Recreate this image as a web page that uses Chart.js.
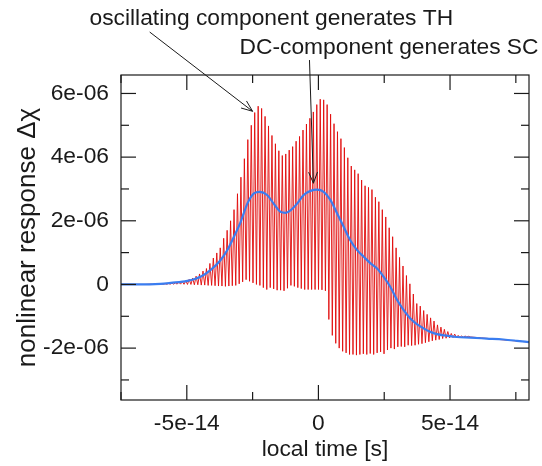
<!DOCTYPE html>
<html><head><meta charset="utf-8">
<script src="https://cdn.jsdelivr.net/npm/chart.js@4/dist/chart.umd.min.js"></script>
<style>html,body{margin:0;padding:0;background:#fff}#wrap{width:542px;height:466px;position:relative}</style>
</head><body><div id="wrap"><canvas id="c" width="542" height="466"></canvas></div>
<script>
// time unit: 1e-14 s, response unit: 1e-6
const xTickVals = [-5, 0, 5];
const xTickLabels = ['-5e-14', '0', '5e-14'];
const xMinorVals = [-7.5, -2.5, 2.5, 7.5];
const yTickVals = [-2, 0, 2, 4, 6];
const yTickLabels = ['-2e-06', '0', '2e-06', '4e-06', '6e-06'];
const yMinorVals = [-3, -1, 1, 3, 5];

// oscillating signal: sampling grid of the oscillation (peaks at start + k*step, troughs half a step later)
const oscStart = -6.35;
const oscStep = 0.131;
const peakVals = [0.01,0.01,0.015,0.02,0.025,0.03,0.04,0.05,0.07,0.09,
  0.12,0.16,0.2,0.26,0.33,0.42,0.5,0.66,0.83,0.99,
  1.15,1.45,1.7,2.0,2.35,2.85,3.37,3.95,4.55,5.0,
  5.4,5.6,5.53,5.28,4.98,4.68,4.42,4.2,4.05,4.1,
  4.22,4.33,4.5,4.65,4.85,5.04,5.22,5.42,5.65,5.82,
  5.8,5.65,5.35,5.05,4.8,4.58,4.3,3.98,3.72,3.6,
  3.48,3.28,3.1,3.05,2.98,2.74,2.6,2.35,2.12,1.78,
  1.5,1.15,0.85,0.58,0.28,0.02,-0.3,-0.6,-0.68,-0.82,
  -0.94,-1.05,-1.15,-1.27,-1.34,-1.41,-1.48,-1.54,-1.56,-1.6,
  -1.62,-1.62,-1.63];
const troughVals = [0,0,0,0.005,0.005,0.01,0.01,0.01,0.01,0.005,
  0,0,-0.01,-0.01,-0.02,-0.02,-0.03,-0.03,-0.04,-0.05,
  -0.05,-0.06,-0.05,-0.04,-0.03,0.02,0.08,0.15,0.1,0.05,
  0,-0.03,-0.1,-0.16,-0.1,-0.14,-0.18,-0.18,-0.2,-0.12,
  -0.03,-0.06,-0.1,-0.13,-0.16,-0.16,-0.16,-0.16,-0.16,-0.17,
  -0.2,-1.1,-1.6,-1.85,-2.0,-2.1,-2.15,-2.2,-2.2,-2.22,
  -2.2,-2.18,-2.2,-2.17,-2.2,-2.15,-2.12,-2.18,-2.06,-2.0,
  -2.03,-1.96,-1.95,-1.96,-1.91,-1.92,-1.91,-1.88,-1.86,-1.83,
  -1.8,-1.77,-1.75,-1.73,-1.7,-1.69,-1.68,-1.67,-1.67,-1.66,
  -1.66,-1.65,-1.65];
const redLeadTime = [-7.5, -6.6];
const redLeadVals = [0, 0];
const redTailTime = [6.2, 8.0];
const redTailVals = [-1.68, -1.81];

// DC component
const blueTime = [-7.5,-6.87,-6.0,-5.61,-4.98,-4.48,-4.10,-3.72,-3.46,-3.21,-2.96,-2.70,-2.45,-2.23,-1.95,-1.70,-1.44,-1.25,-1.06,-0.81,-0.56,-0.30,-0.05,0.20,0.46,0.71,0.96,1.21,1.47,1.72,1.97,2.23,2.48,2.73,2.99,3.24,3.49,3.74,3.99,4.25,4.50,4.88,5.26,5.77,6.40,7.03,7.54,8.0];
const blueVals = [0,0,0.02,0.05,0.11,0.24,0.45,0.76,1.08,1.5,1.95,2.54,2.86,2.91,2.81,2.54,2.28,2.25,2.33,2.54,2.81,2.94,2.98,2.91,2.65,2.23,1.81,1.39,1.08,0.87,0.67,0.5,0.24,-0.07,-0.49,-0.81,-1.07,-1.25,-1.38,-1.49,-1.56,-1.61,-1.65,-1.67,-1.70,-1.73,-1.77,-1.81];

// annotations (data coordinates for arrows)
const notes = [
  {text: 'oscillating component generates TH', tx: 89.5, ty: 25, from: [-6.41, 7.93], to: [-2.50, 5.44]},
  {text: 'DC-component generates SC', tx: 239.5, ty: 54, from: [-0.34, 7.05], to: [-0.19, 3.18]}
];

const redData = [];
redLeadTime.forEach((t, i) => redData.push({x: t, y: redLeadVals[i]}));
peakVals.forEach((v, k) => {
  redData.push({x: oscStart + k * oscStep, y: v});
  redData.push({x: oscStart + (k + 0.5) * oscStep, y: troughVals[k]});
});
redTailTime.forEach((t, i) => redData.push({x: t, y: redTailVals[i]}));
const blueData = blueTime.map((t, i) => ({x: t, y: blueVals[i]}));

const FONT = "'Liberation Sans', Arial, Helvetica, sans-serif";
const FS = 22.8;
const INK = '#1a1a1a';

const framePlugin = {
  id: 'frame',
  afterDatasetsDraw(chart) {
    const {ctx, chartArea: a, scales: {x, y}} = chart;
    ctx.save();
    ctx.strokeStyle = INK;
    ctx.lineWidth = 1.2;
    const seg = (x1, y1, x2, y2) => { ctx.beginPath(); ctx.moveTo(x1, y1); ctx.lineTo(x2, y2); ctx.stroke(); };
    const xt = (v, len) => { const p = x.getPixelForValue(v); seg(p, a.bottom, p, a.bottom - len); seg(p, a.top, p, a.top + len); };
    const yt = (v, len) => { const p = y.getPixelForValue(v); seg(a.left, p, a.left + len, p); seg(a.right, p, a.right - len, p); };
    xTickVals.forEach(v => xt(v, 15));
    xMinorVals.forEach(v => xt(v, 8));
    yTickVals.forEach(v => yt(v, 15));
    yMinorVals.forEach(v => yt(v, 8));
    ctx.strokeRect(a.left, a.top, a.right - a.left, a.bottom - a.top);
    ctx.restore();
  },
  afterDraw(chart) {
    const {ctx, scales: {x, y}} = chart;
    ctx.save();
    ctx.fillStyle = INK;
    ctx.strokeStyle = INK;
    ctx.lineWidth = 1;
    ctx.font = FS + 'px ' + FONT;
    ctx.textAlign = 'left';
    ctx.textBaseline = 'alphabetic';
    notes.forEach(n => {
      ctx.fillText(n.text, n.tx, n.ty);
      const x1 = x.getPixelForValue(n.from[0]), y1 = y.getPixelForValue(n.from[1]);
      const x2 = x.getPixelForValue(n.to[0]), y2 = y.getPixelForValue(n.to[1]);
      ctx.beginPath(); ctx.moveTo(x1, y1); ctx.lineTo(x2, y2); ctx.stroke();
      const ang = Math.atan2(y2 - y1, x2 - x1), L = 12, w = 0.38;
      ctx.beginPath();
      ctx.moveTo(x2 - L * Math.cos(ang - w), y2 - L * Math.sin(ang - w));
      ctx.lineTo(x2, y2);
      ctx.lineTo(x2 - L * Math.cos(ang + w), y2 - L * Math.sin(ang + w));
      ctx.stroke();
    });
    ctx.restore();
  }
};

new Chart(document.getElementById('c'), {
  type: 'scatter',
  data: {
    datasets: [
      {data: blueData, showLine: true, borderColor: 'rgb(58,125,240)', borderWidth: 2.2, pointRadius: 0, cubicInterpolationMode: 'monotone', order: 0},
      {data: redData, showLine: true, borderColor: 'rgb(225,10,10)', borderWidth: 0.9, pointRadius: 0, tension: 0, order: 1}
    ]
  },
  options: {
    responsive: false,
    animation: false,
    events: [],
    layout: {padding: {top: 75, right: 13, left: 0, bottom: 0}},
    plugins: {legend: {display: false}, tooltip: {enabled: false}},
    scales: {
      x: {
        type: 'linear', min: -7.5, max: 8.0,
        grid: {display: false}, border: {display: false},
        afterBuildTicks: s => { s.ticks = xTickVals.map(v => ({value: v})); },
        afterFit: s => { s.height = 66; },
        ticks: {
          color: INK, padding: 2, font: {family: FONT, size: FS}, maxRotation: 0, autoSkip: false,
          callback: v => { const i = xTickVals.indexOf(v); return i >= 0 ? xTickLabels[i] : ''; }
        },
        title: {display: true, text: 'local time [s]', color: INK, font: {family: FONT, size: FS}, padding: {top: 0, bottom: 3}}
      },
      y: {
        type: 'linear', min: -3.63, max: 6.58,
        grid: {display: false}, border: {display: false},
        afterBuildTicks: s => { s.ticks = yTickVals.map(v => ({value: v})); },
        afterFit: s => { s.width = 121; },
        ticks: {
          color: INK, padding: 4, font: {family: FONT, size: FS}, autoSkip: false,
          callback: v => { const i = yTickVals.indexOf(v); return i >= 0 ? yTickLabels[i] : ''; }
        },
        title: {display: true, text: 'nonlinear response Δχ', color: INK, font: {family: FONT, size: 26}, padding: {top: 12, bottom: 0}}
      }
    }
  },
  plugins: [framePlugin]
});
</script></body></html>
